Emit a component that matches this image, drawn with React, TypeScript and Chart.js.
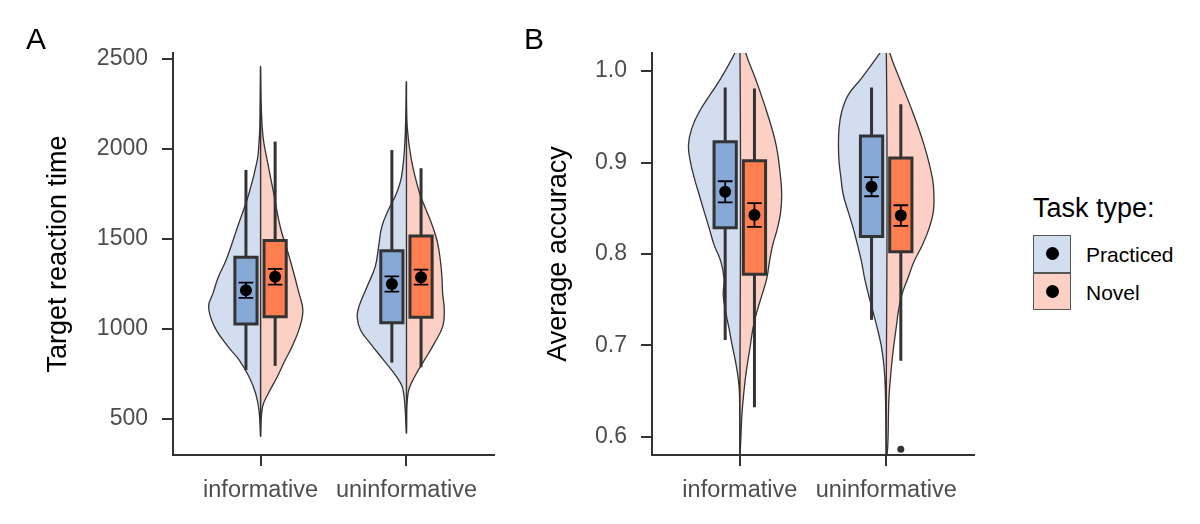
import React, { useEffect, useRef } from 'react';
import { Chart, registerables } from 'chart.js';

Chart.register(...registerables);

// ---------------- data ----------------
const categories = ['informative', 'uninformative'];
const groups = ['Practiced', 'Novel'];

// Panel A: target reaction time
const rtTicks = [500, 1000, 1500, 2000, 2500];
const rtRange = [300, 2533];
// box stats per category: [lower whisker, Q1, Q3, upper whisker]
const rtBoxPracticed = [
  [772, 1028, 1398, 1883],
  [813, 1035, 1435, 1994],
];
const rtBoxNovel = [
  [795, 1068, 1491, 2041],
  [787, 1065, 1517, 1893],
];
const rtMeanPracticed = [1215, 1250];
const rtSePracticed = [42, 42];
const rtMeanNovel = [1290, 1288];
const rtSeNovel = [44, 42];
// half-violin density profiles: [value, half width in category units]
const rtViolinInfPracticed = [
  [402, 0], [550, 0.011], [643, 0.034], [735, 0.079], [828, 0.147], [902, 0.223],
  [1013, 0.316], [1124, 0.356], [1198, 0.326], [1291, 0.288], [1383, 0.236],
  [1568, 0.157], [1754, 0.079], [1939, 0.022], [2032, 0.011], [2124, 0.005], [2440, 0],
];
const rtViolinInfNovel = [
  [402, 0], [569, 0.014], [643, 0.054], [735, 0.115], [828, 0.169], [902, 0.216],
  [1013, 0.27], [1105, 0.29], [1198, 0.264], [1383, 0.203], [1568, 0.135],
  [1754, 0.09], [1939, 0.045], [2032, 0.023], [2124, 0.011], [2300, 0.003], [2440, 0],
];
const rtViolinUninfPracticed = [
  [420, 0], [661, 0.023], [735, 0.068], [828, 0.158], [920, 0.248], [994, 0.315],
  [1068, 0.338], [1124, 0.326], [1235, 0.27], [1346, 0.214], [1457, 0.191],
  [1568, 0.169], [1661, 0.124], [1754, 0.068], [1846, 0.034], [2032, 0.011], [2356, 0],
];
const rtViolinUninfNovel = [
  [420, 0], [643, 0.011], [735, 0.056], [828, 0.124], [920, 0.191], [1013, 0.248],
  [1106, 0.259], [1198, 0.248], [1291, 0.243], [1383, 0.232], [1476, 0.214],
  [1568, 0.18], [1661, 0.135], [1754, 0.09], [1939, 0.034], [2124, 0.005], [2356, 0],
];

// Panel B: average accuracy
const accTicks = [0.6, 0.7, 0.8, 0.9, 1.0];
const accRange = [0.5803, 1.0197];
const accBoxPracticed = [
  [0.706, 0.8287, 0.9227, 0.982],
  [0.728, 0.819, 0.929, 0.982],
];
const accBoxNovel = [
  [0.6325, 0.778, 0.902, 0.981],
  [0.6834, 0.8025, 0.905, 0.9636],
];
const accMeanPracticed = [0.868, 0.8736];
const accSePracticed = [0.0115, 0.0105];
const accMeanNovel = [0.8426, 0.842];
const accSeNovel = [0.013, 0.0113];
const accOutlierCategory = [1];
const accOutlierGroup = ['Novel'];
const accOutlierValue = [0.5866];
const accViolinInfPracticed = [
  [0.575, 0], [0.646, 0.002], [0.664, 0.011], [0.682, 0.029], [0.7, 0.052],
  [0.719, 0.074], [0.737, 0.097], [0.755, 0.113], [0.773, 0.108], [0.792, 0.13],
  [0.81, 0.176], [0.828, 0.209], [0.846, 0.243], [0.8645, 0.277], [0.883, 0.311],
  [0.901, 0.338], [0.919, 0.351], [0.937, 0.329], [0.9555, 0.277], [0.992, 0.13],
  [1.021, 0.03], [1.035, 0],
];
const accViolinInfNovel = [
  [0.57, 0], [0.591, 0.005], [0.628, 0.016], [0.664, 0.038], [0.682, 0.054],
  [0.7, 0.072], [0.719, 0.09], [0.737, 0.117], [0.755, 0.151], [0.773, 0.184],
  [0.792, 0.203], [0.81, 0.225], [0.828, 0.257], [0.846, 0.279], [0.8645, 0.286],
  [0.883, 0.279], [0.919, 0.248], [0.9555, 0.184], [0.992, 0.106], [1.021, 0.038],
  [1.05, 0],
];
const accViolinUninfPracticed = [
  [0.575, 0], [0.6, 0.001], [0.646, 0.005], [0.664, 0.009], [0.682, 0.018],
  [0.7, 0.034], [0.719, 0.061], [0.737, 0.09], [0.755, 0.12], [0.773, 0.147],
  [0.792, 0.169], [0.81, 0.196], [0.828, 0.225], [0.846, 0.259], [0.8645, 0.293],
  [0.883, 0.309], [0.901, 0.322], [0.919, 0.326], [0.937, 0.322], [0.9555, 0.304],
  [0.974, 0.259], [0.992, 0.169], [1.021, 0.038], [1.032, 0],
];
const accViolinUninfNovel = [
  [0.57, 0], [0.591, 0.011], [0.628, 0.016], [0.646, 0.02], [0.664, 0.029],
  [0.682, 0.039], [0.7, 0.052], [0.719, 0.068], [0.737, 0.083], [0.755, 0.106],
  [0.773, 0.147], [0.792, 0.191], [0.81, 0.248], [0.828, 0.293], [0.846, 0.322],
  [0.8645, 0.326], [0.883, 0.316], [0.919, 0.259], [0.9555, 0.18], [0.992, 0.09],
  [1.021, 0.022], [1.04, 0],
];

// ---------------- styles ----------------
const FONT = "'Liberation Sans', Arial, Helvetica, sans-serif";
const DARK = '#333333';
const VIOLIN_FILL: Record<string, string> = { Practiced: '#D2DDF0', Novel: '#FDD0C5' };
const BOX_FILL: Record<string, string> = { Practiced: '#87A9D8', Novel: '#FF7F50' };
const DODGE = 0.1;
const BOX_HALF = 0.076;
const CAP_HALF = 0.05;

type PanelSpec = {
  range: number[];
  ticks: number[];
  format: (v: number) => string;
  title: string;
  axisWidth: number;
  padRight: number;
  violins: Record<string, number[][][]>;
  boxes: Record<string, number[][]>;
  means: Record<string, number[]>;
  ses: Record<string, number[]>;
  outliers?: { cat: number[]; group: string[]; value: number[] };
};

function sideOf(g: string) {
  return g === 'Practiced' ? -1 : 1;
}

function buildDatasets(p: PanelSpec) {
  const ds: any[] = [];
  const base = { pointRadius: 0, tension: 0, spanGaps: false };
  categories.forEach((_, ci) => {
    const center = ci + 1;
    groups.forEach((g) => {
      const s = sideOf(g);
      const prof = p.violins[g][ci];
      const pts = prof.map(([v, w]) => ({ x: center + s * w, y: v }));
      pts.push({ x: center, y: prof[0][0] });
      ds.push({
        ...base,
        tension: 0.4,
        data: pts,
        fill: 'shape',
        backgroundColor: VIOLIN_FILL[g],
        borderColor: DARK,
        borderWidth: 1.3,
        order: 10,
      });
    });
  });
  categories.forEach((_, ci) => {
    groups.forEach((g) => {
      const cx = ci + 1 + sideOf(g) * DODGE;
      const [lo, q1, q3, hi] = p.boxes[g][ci];
      ds.push({
        ...base,
        data: [{ x: cx, y: lo }, { x: cx, y: hi }],
        borderColor: DARK,
        borderWidth: 3,
        borderCapStyle: 'butt',
        fill: false,
        order: 8,
      });
      ds.push({
        ...base,
        data: [
          { x: cx - BOX_HALF, y: q1 },
          { x: cx + BOX_HALF, y: q1 },
          { x: cx + BOX_HALF, y: q3 },
          { x: cx - BOX_HALF, y: q3 },
          { x: cx - BOX_HALF, y: q1 },
          { x: cx + BOX_HALF, y: q1 },
        ],
        fill: 'shape',
        backgroundColor: BOX_FILL[g],
        borderColor: DARK,
        borderWidth: 3,
        borderJoinStyle: 'miter',
        order: 6,
      });
      const m = p.means[g][ci];
      const se = p.ses[g][ci];
      ds.push({
        ...base,
        data: [
          { x: cx - CAP_HALF, y: m - se },
          { x: cx + CAP_HALF, y: m - se },
          { x: null, y: null },
          { x: cx - CAP_HALF, y: m + se },
          { x: cx + CAP_HALF, y: m + se },
          { x: null, y: null },
          { x: cx, y: m - se },
          { x: cx, y: m + se },
        ],
        borderColor: '#000',
        borderWidth: 1.8,
        fill: false,
        order: 4,
      });
    });
  });
  const meanPts: any[] = [];
  categories.forEach((_, ci) => {
    groups.forEach((g) => {
      meanPts.push({ x: ci + 1 + sideOf(g) * DODGE, y: p.means[g][ci] });
    });
  });
  ds.push({
    data: meanPts,
    showLine: false,
    pointRadius: 6,
    pointBackgroundColor: '#000',
    pointBorderColor: '#000',
    pointBorderWidth: 0,
    order: 2,
  });
  if (p.outliers) {
    const o = p.outliers;
    ds.push({
      data: o.value.map((v, i) => ({ x: o.cat[i] + 1 + sideOf(o.group[i]) * DODGE, y: v })),
      showLine: false,
      pointRadius: 3.5,
      pointBackgroundColor: DARK,
      pointBorderColor: DARK,
      pointBorderWidth: 0,
      order: 1,
    });
  }
  return ds;
}

function makeConfig(p: PanelSpec): any {
  return {
    type: 'line',
    data: { datasets: buildDatasets(p) },
    options: {
      responsive: false,
      animation: false,
      events: [],
      layout: { padding: { left: 0, right: p.padRight, top: 53, bottom: 0 } },
      plugins: { legend: { display: false }, tooltip: { enabled: false } },
      scales: {
        x: {
          type: 'linear',
          min: 0.4,
          max: 2.6,
          afterBuildTicks: (s: any) => {
            s.ticks = categories.map((_, i) => ({ value: i + 1 }));
          },
          afterFit: (s: any) => {
            s.height = 69;
          },
          ticks: {
            callback: (_v: any, i: number) => categories[i],
            font: { family: FONT, size: 23.5 },
            color: '#4D4D4D',
            padding: 10,
            autoSkip: false,
            maxRotation: 0,
          },
          grid: { drawOnChartArea: false, drawTicks: true, tickLength: 11, color: DARK, lineWidth: 2 },
          border: { display: true, color: DARK, width: 2 },
        },
        y: {
          type: 'linear',
          min: p.range[0],
          max: p.range[1],
          afterBuildTicks: (s: any) => {
            s.ticks = p.ticks.map((v) => ({ value: v }));
          },
          afterFit: (s: any) => {
            s.width = p.axisWidth;
          },
          ticks: {
            callback: (v: any) => p.format(v),
            font: { family: FONT, size: 23 },
            color: '#4D4D4D',
            padding: 14,
          },
          grid: { drawOnChartArea: false, drawTicks: true, tickLength: 11, color: DARK, lineWidth: 2 },
          border: { display: true, color: DARK, width: 2 },
          title: {
            display: true,
            text: p.title,
            font: { family: FONT, size: 27 },
            color: '#000',
            padding: { top: 42, bottom: 0 },
          },
        },
      },
    },
  };
}

const panelA: PanelSpec = {
  range: rtRange,
  ticks: rtTicks,
  format: (v) => String(v),
  title: 'Target reaction time',
  axisWidth: 173,
  padRight: 3,
  violins: {
    Practiced: [rtViolinInfPracticed, rtViolinUninfPracticed],
    Novel: [rtViolinInfNovel, rtViolinUninfNovel],
  },
  boxes: { Practiced: rtBoxPracticed, Novel: rtBoxNovel },
  means: { Practiced: rtMeanPracticed, Novel: rtMeanNovel },
  ses: { Practiced: rtSePracticed, Novel: rtSeNovel },
};

const panelB: PanelSpec = {
  range: accRange,
  ticks: accTicks,
  format: (v) => Number(v).toFixed(1),
  title: 'Average accuracy',
  axisWidth: 152,
  padRight: 6,
  violins: {
    Practiced: [accViolinInfPracticed, accViolinUninfPracticed],
    Novel: [accViolinInfNovel, accViolinUninfNovel],
  },
  boxes: { Practiced: accBoxPracticed, Novel: accBoxNovel },
  means: { Practiced: accMeanPracticed, Novel: accMeanNovel },
  ses: { Practiced: accSePracticed, Novel: accSeNovel },
  outliers: { cat: accOutlierCategory, group: accOutlierGroup, value: accOutlierValue },
};

function Panel({ spec, left, width }: { spec: PanelSpec; left: number; width: number }) {
  const ref = useRef<HTMLCanvasElement>(null);
  useEffect(() => {
    const chart = new Chart(ref.current as HTMLCanvasElement, makeConfig(spec));
    return () => chart.destroy();
  }, []);
  return (
    <canvas
      ref={ref}
      width={width}
      height={524}
      style={{ position: 'absolute', left, top: 0, width, height: 524 }}
    />
  );
}

const abs = (o: any): any => ({ position: 'absolute', margin: 0, fontFamily: FONT, ...o });

export default function App() {
  return (
    <div style={{ position: 'absolute', left: 0, top: 0, width: 1200, height: 524, background: '#fff', overflow: 'hidden' }}>
      <Panel spec={panelA} left={0} width={500} />
      <Panel spec={panelB} left={500} width={480} />
      <div style={abs({ left: 26, top: 24, fontSize: 30, lineHeight: '30px', color: '#000' })}>A</div>
      <div style={abs({ left: 524, top: 24, fontSize: 30, lineHeight: '30px', color: '#000' })}>B</div>
      <div style={abs({ left: 1033, top: 195, fontSize: 27, lineHeight: '27px', color: '#000', whiteSpace: 'nowrap' })}>
        Task type:
      </div>
      {groups.map((g, i) => (
        <React.Fragment key={g}>
          <div
            style={abs({
              left: 1033,
              top: 235 + i * 37.5,
              width: 38,
              height: 37.5,
              boxSizing: 'border-box',
              border: '1.5px solid #555',
              background: VIOLIN_FILL[g],
            })}
          >
            <div
              style={abs({
                left: '50%',
                top: '50%',
                width: 13,
                height: 13,
                marginLeft: -6.5,
                marginTop: -6.5,
                borderRadius: '50%',
                background: '#000',
              })}
            />
          </div>
          <div style={abs({ left: 1086, top: 244 + i * 38, fontSize: 21, lineHeight: '21px', color: '#000', whiteSpace: 'nowrap' })}>
            {g}
          </div>
        </React.Fragment>
      ))}
    </div>
  );
}
